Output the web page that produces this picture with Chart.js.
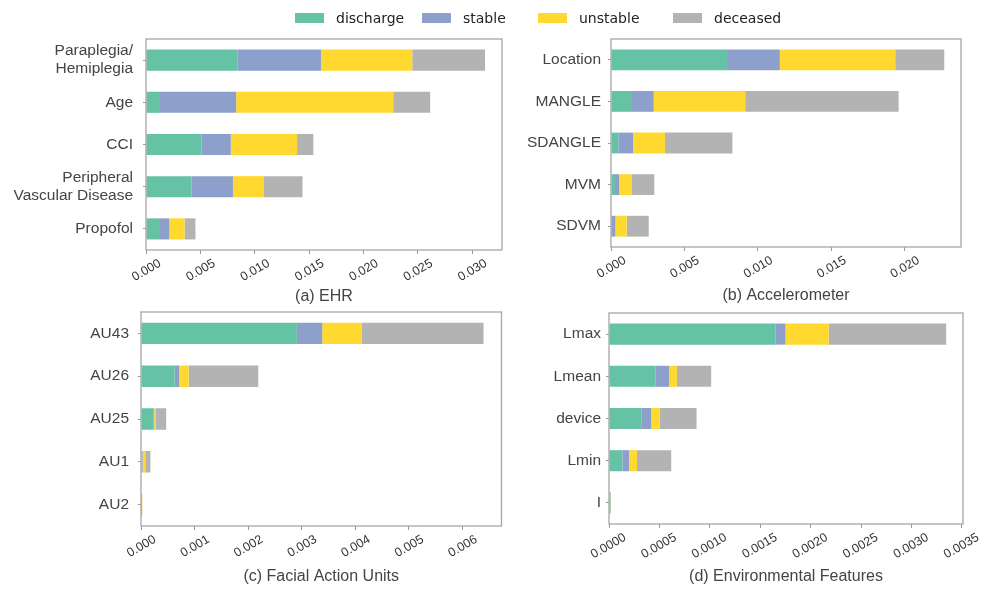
<!DOCTYPE html>
<html>
<head>
<meta charset="utf-8">
<script src="https://cdn.jsdelivr.net/npm/chart.js@4.4.1/dist/chart.umd.min.js"></script>
<style>
  body { margin: 0; background: #fff; }
  #wrap { position: relative; width: 981px; height: 593px; overflow: hidden; }
  canvas { position: absolute; }
  .lg-box { position: absolute; top: 13px; width: 29px; height: 10px; }
  .lg-txt { position: absolute; top: 10px; font-family: 'DejaVu Sans'; font-size: 14px; line-height: 16px; color: #222; white-space: nowrap; }
</style>
</head>
<body>
<div id="wrap">
  <canvas id="ehr"></canvas>
  <canvas id="acc"></canvas>
  <canvas id="fau"></canvas>
  <canvas id="env"></canvas>
</div>
<script>
const seriesNames = ['discharge', 'stable', 'unstable', 'deceased'];
const seriesColors = ['#66c2a5', '#8da0cb', '#ffd92f', '#b3b3b3'];

// (a) EHR
const ehrLabels = [['Paraplegia/', 'Hemiplegia'], 'Age', 'CCI', ['Peripheral', 'Vascular Disease'], 'Propofol'];
const ehrDischarge = [0.0084, 0.0012, 0.0051, 0.0042, 0.0012];
const ehrStable = [0.0077, 0.0071, 0.0027, 0.0038, 0.00095];
const ehrUnstable = [0.0084, 0.01445, 0.0061, 0.0028, 0.0014];
const ehrDeceased = [0.0067, 0.0034, 0.0015, 0.0036, 0.001];

// (b) Accelerometer
const accLabels = ['Location', 'MANGLE', 'SDANGLE', 'MVM', 'SDVM'];
const accDischarge = [0.0079, 0.00143, 0.0005, 0.00027, 0.00003];
const accStable = [0.0036, 0.00148, 0.001, 0.00028, 0.00027];
const accUnstable = [0.00786, 0.00623, 0.00218, 0.00088, 0.00077];
const accDeceased = [0.00334, 0.01045, 0.00459, 0.00152, 0.0015];

// (c) Facial Action Units
const fauLabels = ['AU43', 'AU26', 'AU25', 'AU1', 'AU2'];
const fauDischarge = [0.00291, 0.00063, 0.000237, 0.00001, 0.000002];
const fauStable = [0.000474, 0.00008, 0.00001, 0.00002, 0.000003];
const fauUnstable = [0.000734, 0.00018, 0.000023, 0.00005, 0.000018];
const fauDeceased = [0.002277, 0.0013, 0.0002, 0.000095, 0.000002];

// (d) Environmental Features
const envLabels = ['Lmax', 'Lmean', 'device', 'Lmin', 'I'];
const envDischarge = [0.001653, 0.000459, 0.00032, 0.000132, 0.000015];
const envStable = [0.000097, 0.000138, 0.000099, 0.000066, 0.000001];
const envUnstable = [0.000428, 0.000076, 0.000083, 0.000079, 0.000003];
const envDeceased = [0.001165, 0.00034, 0.000366, 0.00034, 0.000001];

Chart.defaults.font.family = "'Liberation Sans', Arial, sans-serif";

// legend (shared, html)
const legendX = [295, 422, 538, 673];
const wrap = document.getElementById('wrap');
seriesNames.forEach((name, i) => {
    const box = document.createElement('div');
    box.className = 'lg-box';
    box.style.left = legendX[i] + 'px';
    box.style.background = seriesColors[i];
    wrap.appendChild(box);
    const txt = document.createElement('span');
    txt.className = 'lg-txt';
    txt.style.left = (legendX[i] + 41) + 'px';
    txt.textContent = name;
    wrap.appendChild(txt);
});

// gray frame round the plot area
const frame = {
    id: 'frame',
    afterDatasetsDraw(chart) {
        const a = chart.chartArea;
        const c = chart.ctx;
        c.save();
        c.strokeStyle = '#a6a6a6';
        c.lineWidth = 1.3;
        c.strokeRect(a.left, a.top, a.right - a.left, a.bottom - a.top);
        c.restore();
    }
};

function makePanel(id, box, labels, values, opts) {
    const canvas = document.getElementById(id);
    canvas.width = box.cw;
    canvas.height = box.ch;
    canvas.style.left = box.cx + 'px';
    canvas.style.top = box.cy + 'px';

    const titleLh = 16 * 1.2;
    return new Chart(canvas, {
        type: 'bar',
        data: {
            labels: labels,
            datasets: values.map((v, i) => ({
                label: seriesNames[i],
                data: v,
                backgroundColor: seriesColors[i],
                borderWidth: 0,
                barPercentage: 0.5,
                categoryPercentage: 1.0
            }))
        },
        options: {
            indexAxis: 'y',
            responsive: false,
            animation: false,
            layout: {
                padding: { left: 0, top: box.T - box.cy, right: box.cx + box.cw - box.R, bottom: 0 }
            },
            plugins: {
                legend: { display: false },
                tooltip: { enabled: false }
            },
            scales: {
                x: {
                    stacked: true,
                    min: 0,
                    max: opts.max,
                    border: { display: false },
                    grid: { drawOnChartArea: false, tickLength: 4, color: '#999' },
                    ticks: {
                        stepSize: opts.step,
                        includeBounds: false,
                        autoSkip: false,
                        minRotation: 30,
                        maxRotation: 30,
                        labelOffset: opts.labelOffset,
                        padding: 2,
                        color: '#333',
                        font: { size: 12.5 },
                        callback: v => Number(v).toFixed(opts.digits)
                    },
                    title: {
                        display: true,
                        text: opts.title,
                        color: '#444',
                        font: { size: 16 },
                        padding: { top: 0, bottom: box.cy + box.ch - box.TY - titleLh / 2 }
                    },
                    afterFit: s => { s.height = box.cy + box.ch - box.B; }
                },
                y: {
                    stacked: true,
                    border: { display: false },
                    grid: { drawOnChartArea: false, offset: false, tickLength: 3, color: '#999' },
                    ticks: {
                        color: '#444',
                        padding: opts.yPad,
                        font: { size: 15.5, lineHeight: 1.15 }
                    },
                    afterFit: s => { s.width = box.L - box.cx; }
                }
            }
        },
        plugins: [frame]
    });
}

makePanel('ehr',
    { cx: 0, cy: 0, cw: 515, ch: 315, L: 146, T: 39, R: 502, B: 250, TY: 296.7 },
    ehrLabels, [ehrDischarge, ehrStable, ehrUnstable, ehrDeceased],
    { title: '(a) EHR', max: 0.03276, step: 0.005, digits: 3, labelOffset: 14, yPad: 10 });

makePanel('acc',
    { cx: 515, cy: 0, cw: 466, ch: 315, L: 611, T: 39, R: 961, B: 247, TY: 296 },
    accLabels, [accDischarge, accStable, accUnstable, accDeceased],
    { title: '(b) Accelerometer', max: 0.02384, step: 0.005, digits: 3, labelOffset: 14, yPad: 7 });

makePanel('fau',
    { cx: 0, cy: 285, cw: 515, ch: 308, L: 141, T: 312, R: 501.5, B: 526, TY: 576.7 },
    fauLabels, [fauDischarge, fauStable, fauUnstable, fauDeceased],
    { title: '(c) Facial Action Units', max: 0.00673, step: 0.001, digits: 3, labelOffset: 14, yPad: 9 });

makePanel('env',
    { cx: 515, cy: 285, cw: 466, ch: 308, L: 609, T: 313, R: 963, B: 524, TY: 576.7 },
    envLabels, [envDischarge, envStable, envUnstable, envDeceased],
    { title: '(d) Environmental Features', max: 0.00351, step: 0.0005, digits: 4, labelOffset: 16, yPad: 5 });
</script>
</body>
</html>
